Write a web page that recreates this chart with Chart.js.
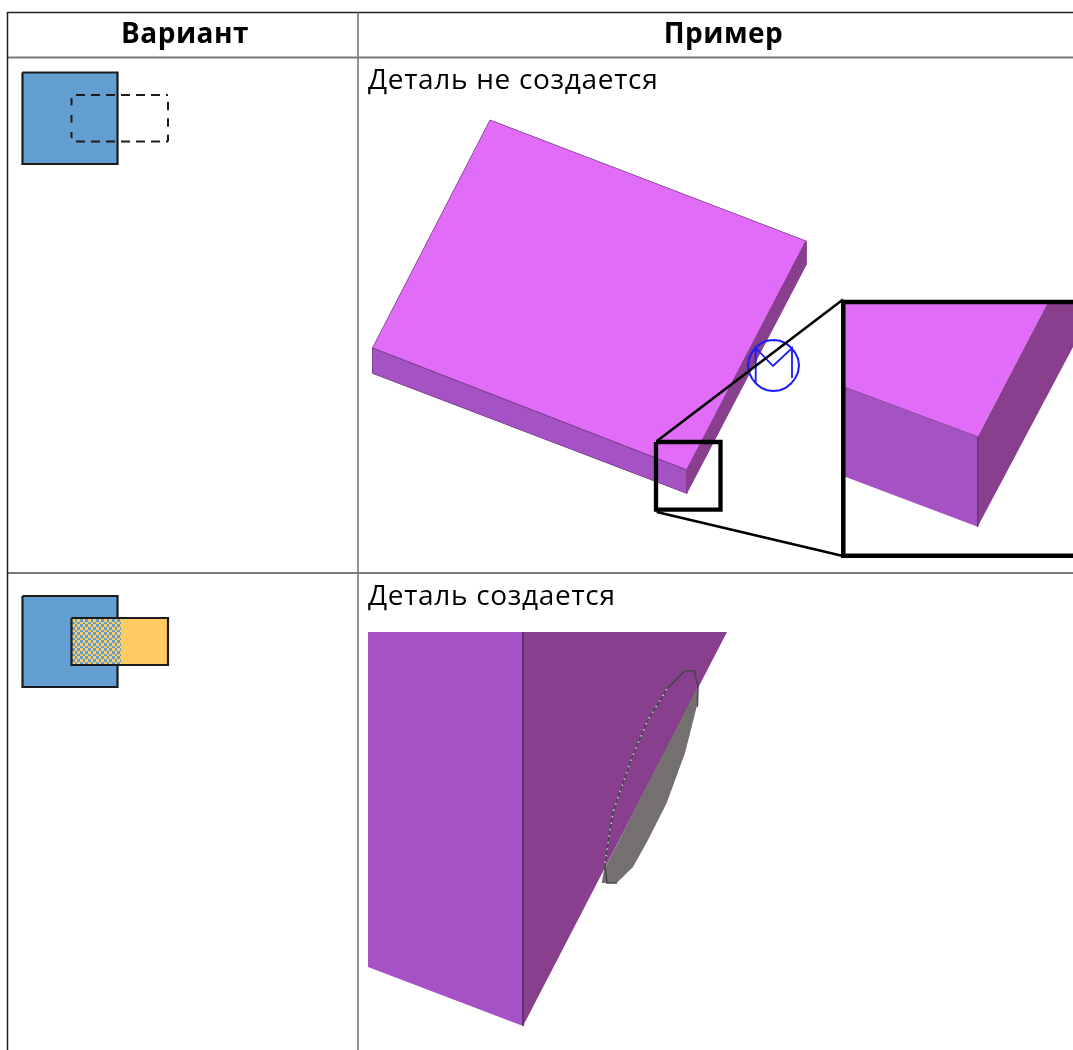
<!DOCTYPE html>
<html><head><meta charset="utf-8">
<style>html,body{margin:0;padding:0;background:#fff;overflow:hidden}canvas{display:block;filter:blur(0.4px)}</style>
<script src="https://cdn.jsdelivr.net/npm/chart.js@4/dist/chart.umd.min.js"></script>
</head><body>
<canvas id="c" width="1073" height="1050"></canvas>
<script>
// Column headers and captions
const headers = ["Вариант", "Пример"];
const captions = ["Деталь не создается", "Деталь создается"];

// Table rules
const tableTop = [[7,12.5],[1073,12.5]];
const headerRule = [[7.5,57.5],[1073,57.5]];
const rowRule = [[7.5,573],[1073,573]];
const leftRule = [[7.5,12],[7.5,1050]];
const columnRule = [[358,12.5],[358,1050]];

// Row 1 icon
const solidSquareA = [[22.5,72.5],[117.5,72.5],[117.5,164],[22.5,164],[22.5,72.5]];
const dashTop = [[76,95],[168,95]];
const dashRight = [[168,101.7],[168,141.5]];
const dashBottom = [[76,141.5],[168,141.5]];
const dashLeft = [[71.5,98],[71.5,138]];
// Row 2 icon
const solidSquareB = [[22.5,596],[117.5,596],[117.5,687],[22.5,687],[22.5,596]];
const yellowRect = [[71.5,618],[168,618],[168,665],[71.5,665],[71.5,618]];
const checkerRect = [[72,619],[121,619],[121,664],[72,664],[72,619]];

// Row 1 plate
const plateTop = [[490,120],[806,241],[686.7,470],[372.5,348],[490,120]];
const plateFront = [[372.5,348],[686.7,470],[686.7,493.3],[372.5,373.3],[372.5,348]];
const plateSide = [[806,241],[806,265],[686.7,493.3],[686.7,470],[806,241]];
// Row 1 cursor glyph
const cursorCircle = [[773.5,340],[780,340.8],[786,343.4],[791,347.4],[795,352.5],[798,358.5],[799,365.5],[798,372.5],[795,378.5],[791,383.6],[786,387.6],[780,390.2],[773.5,391],[767,390.2],[761,387.6],[756,383.6],[752,378.5],[749,372.5],[748,365.5],[749,358.5],[752,352.5],[756,347.4],[761,343.4],[767,340.8],[773.5,340]];
const cursorMark = [[755.7,383],[755.7,348],[773,366],[792,348],[792,378]];
// Row 1 magnifier
const lensBox = [[656,442],[720.5,442],[720.5,509.7],[656,509.7],[656,442]];
const lensRayUp = [[657,441],[843,299.5]];
const lensRayDown = [[656.7,512],[843,556]];
const zoomBoxTop = [[841,302],[1073,302]];
const zoomBoxLeft = [[843.3,300],[843.3,558]];
const zoomBoxBottom = [[841,555.7],[1073,555.7]];
const zoomTop = [[845,304],[1047,304],[977.7,436.7],[845,387.3],[845,304]];
const zoomFront = [[845,387.3],[977.7,436.7],[977.7,526.7],[845,476.7],[845,387.3]];
const zoomSide = [[1047,304],[1073,304],[1073,347],[977.7,526.7],[977.7,436.7],[1047,304]];
const zoomEdgeA = [[977.7,436.7],[977.7,526.7]];
const zoomEdgeB = [[845,387.3],[977.7,436.7]];

// Row 2 solid
const solidFront = [[368,632],[523,632],[523,1026],[368,967],[368,632]];
const solidSide = [[523,632],[727,632],[523,1026],[523,632]];
const solidEdge = [[523,632],[523,1026]];
const holeFace = [[697.5,686.7],[696.7,706.7],[685,753],[666.7,803],[648,840],[633,867],[616.7,883],[601.7,883],[604,870],[697.5,686.7]];
const holeEdge = [[617,883],[607,883],[605.5,870],[605,863],[613,812],[631.7,758],[648,720],[667,689],[685,670.7],[694,670.7],[698,686.7],[697.3,706.7]];
const holeDots = [[605,863],[613,812],[631.7,758],[648,720],[667,689]];

const TOP = "#E06CF8", FRONT = "#A552C4", SIDE = "#873F8E";
const BLUE = "#639ED1", YELLOW = "#FFCC63", INK = "#1c1c1c", RULE = "#7a7a7a";

function checker() {
  const p = document.createElement("canvas"); p.width = p.height = 16;
  const g = p.getContext("2d");
  const edge = [0,3,5,8,11,13,16];
  g.fillStyle = YELLOW; g.fillRect(0,0,16,16);
  g.fillStyle = BLUE;
  for (let i=0;i<6;i++) for (let j=0;j<6;j++) if ((i+j)%2) g.fillRect(edge[i],edge[j],edge[i+1]-edge[i],edge[j+1]-edge[j]);
  const pat = g.createPattern(p,"repeat");
  pat.setTransform(new DOMMatrix().translate(72,619));
  return pat;
}
const shape = (pts, fill, line, w) => ({data: pts.map(([x,y])=>({x,y})), fill:"shape", backgroundColor: fill,
  borderColor: line||"transparent", borderWidth: line?(w||1):0});
const stroke = (pts, line, w, dash) => ({data: pts.map(([x,y])=>({x,y})), fill:false, borderColor: line, borderWidth: w, borderDash: dash||[]});

const datasets = [
  stroke(tableTop,"#222",1.5), stroke(headerRule,RULE,1.8), stroke(rowRule,RULE,1.8),
  stroke(leftRule,"#222",1.5), stroke(columnRule,RULE,1.6),
  shape(solidSquareA,BLUE,INK,2.2),
  stroke(dashTop,INK,2,[9,6]), stroke(dashBottom,INK,2,[9,6]),
  stroke(dashLeft,INK,2,[7.5,9.5]), stroke(dashRight,INK,2,[8.5,8]),
  shape(solidSquareB,BLUE,INK,2.2),
  shape(yellowRect,YELLOW),
  shape(checkerRect,checker()),
  stroke(yellowRect,INK,2.2),
  shape(plateTop,TOP,"#8a4a9c",1),
  shape(plateFront,FRONT,"#7a3f8f",1),
  shape(plateSide,SIDE,SIDE,1),
  stroke(cursorCircle,"#1a1aff",2),
  stroke(cursorMark,"#1a1aff",1.8),
  shape(zoomTop,TOP),
  shape(zoomFront,FRONT),
  shape(zoomSide,SIDE),
  stroke(zoomEdgeA,"#6a3578",1),
  stroke(zoomEdgeB,"#8a4a9c",1),
  stroke(lensBox,"#000",4.3),
  stroke(lensRayUp,"#000",2.6),
  stroke(lensRayDown,"#000",2.6),
  stroke(zoomBoxTop,"#000",4.5),
  stroke(zoomBoxLeft,"#000",4.5),
  stroke(zoomBoxBottom,"#000",4.5),
  shape(solidFront,FRONT),
  shape(solidSide,SIDE),
  stroke(solidEdge,"#5e2f6b",1),
  shape(holeFace,"#757070"),
  stroke(holeEdge,"#4a4650",1.6),
  stroke(holeDots,"#c8c4cc",1.6,[1.6,5]),
];
datasets.forEach((d,i)=>{ d.order = datasets.length-i; d.pointRadius=0; d.tension=0; d.borderCapStyle="butt"; d.borderJoinStyle="miter"; });

const labelPlugin = { id:"tableText", afterDatasetsDraw(ch){
  const {ctx, scales:{x,y}} = ch;
  const put=(t,px,py,font,al,sp)=>{ctx.font=font;ctx.letterSpacing=sp;ctx.textAlign=al;ctx.textBaseline="alphabetic";ctx.fillStyle="#000";ctx.fillText(t,x.getPixelForValue(px),y.getPixelForValue(py));};
  ctx.save();
  put(headers[0],185,43,"bold 28px 'Open Sans'","center","0.5px");
  put(headers[1],723.5,43,"bold 28px 'Open Sans'","center","0.5px");
  put(captions[0],368,88.5,"28px 'Open Sans'","left","0.68px");
  put(captions[1],368,604.5,"28px 'Open Sans'","left","0.68px");
  ctx.restore();
}};

new Chart(document.getElementById("c"),{
  type:"line",
  data:{datasets},
  options:{responsive:false,animation:false,parsing:false,normalized:false,
    layout:{padding:0},
    scales:{x:{type:"linear",min:0,max:1073,display:false},y:{min:0,max:1050,reverse:true,display:false}},
    plugins:{legend:{display:false},tooltip:{enabled:false},title:{display:false},filler:{propagate:false}},
    elements:{line:{spanGaps:true}}
  },
  plugins:[labelPlugin]
});
</script>
</body></html>
